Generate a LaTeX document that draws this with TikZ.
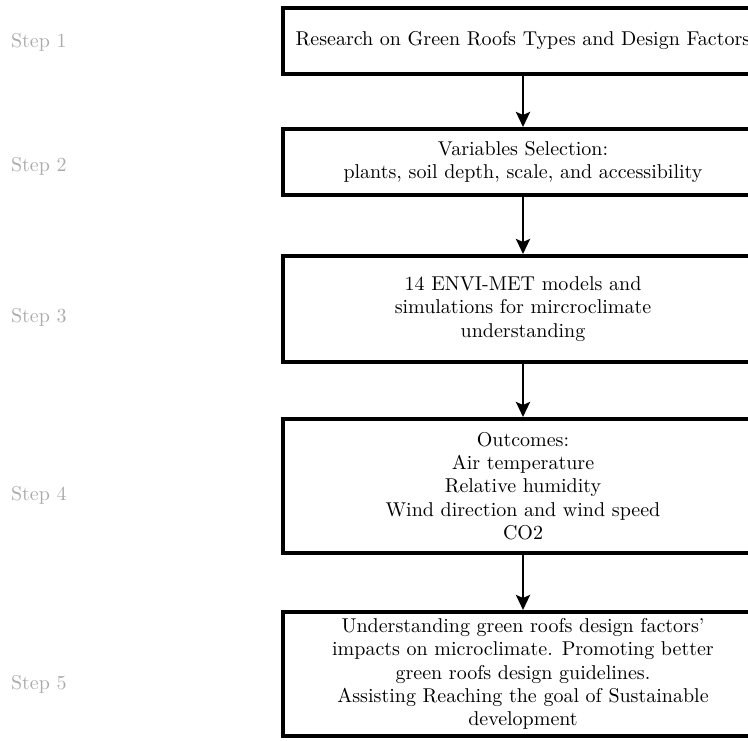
\documentclass[tikz,border=0pt]{standalone}
\usepackage{xcolor}
\usepackage{tikz}
\usetikzlibrary{positioning,arrows.meta}
\definecolor{steptext}{HTML}{ABABAB}

\begin{document}
\begin{tikzpicture}[
    node distance=27pt,
    box/.style={draw=black, line width=2pt, minimum width=240pt, align=center, inner sep=2pt, font=\fontsize{10}{11.6}\selectfont},
    steplbl/.style={text=steptext, font=\fontsize{10}{12}\selectfont, inner sep=0pt},
    arr/.style={-{Stealth[length=7.5pt, width=7pt, inset=1.5pt]}, line width=1.4pt, draw=black}
]
    \useasboundingbox (0,0) rectangle (374pt,-370pt);
    \clip (0,0) rectangle (374pt,-370pt);

    \node[box, anchor=north, minimum height=33pt] (r) at (261.5pt,-3pt) {Research on Green Roofs Types and Design Factors};
    \node[box, below=25.5pt of r, minimum height=33pt] (v) {Variables Selection:\\plants, soil depth, scale, and accessibility};
    \node[box, below=28.5pt of v, minimum height=53pt] (m) {14 ENVI-MET models and\\simulations for mircroclimate\\understanding};
    \node[box, below=26.5pt of m, minimum height=67pt] (o) {Outcomes:\\Air temperature\\Relative humidity\\Wind direction and wind speed\\CO2};
    \node[box, below=27.5pt of o, minimum height=62pt] (u) {Understanding green roofs design factors'\\impacts on microclimate. Promoting better\\green roofs design guidelines.\\Assisting Reaching the goal of Sustainable\\development};

    \node[steplbl, left=107pt of r, yshift=-0.5pt] (s1) {Step 1};
    \node[steplbl, left=107pt of v, yshift=-2pt] (s2) {Step 2};
    \node[steplbl, left=107pt of m, yshift=-4pt] (s3) {Step 3};
    \node[steplbl, left=107pt of o, yshift=-4.5pt] (s4) {Step 4};
    \node[steplbl, left=107pt of u, yshift=-5pt] (s5) {Step 5};

    \draw[arr] (r) -- (v);
    \draw[arr] (v) -- (m);
    \draw[arr] (m) -- (o);
    \draw[arr] (o) -- (u);
\end{tikzpicture}
\end{document}
